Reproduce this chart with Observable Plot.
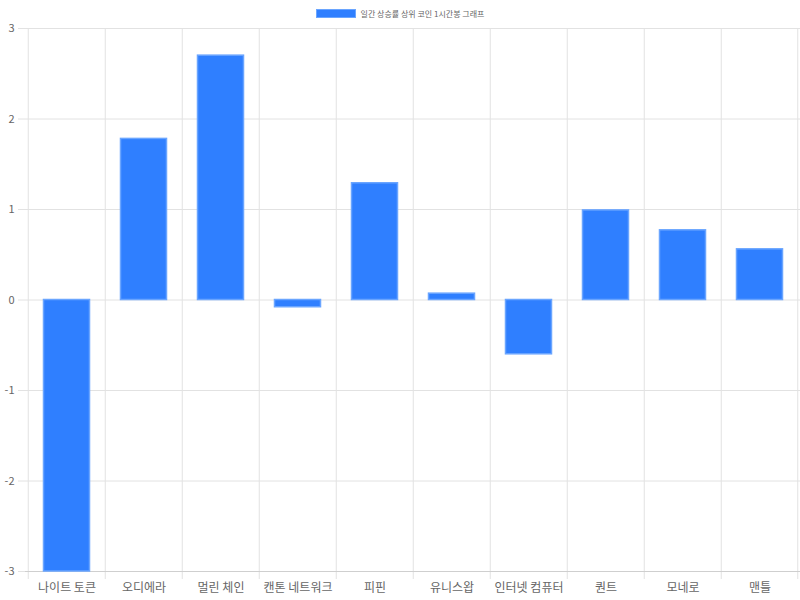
<!DOCTYPE html>
<html>
<head>
<meta charset="utf-8">
<script src="https://cdn.jsdelivr.net/npm/d3@7"></script>
<script src="https://cdn.jsdelivr.net/npm/@observablehq/plot@0.6"></script>
<style>
  html, body { margin: 0; padding: 0; background: #fff; }
  body { width: 800px; position: relative; font-family: "Noto Sans CJK KR", "Noto Sans", sans-serif; }
  #legend { position: absolute; left: 0; top: 0; width: 800px; height: 26px; display: flex; justify-content: center; align-items: center; font-size: 8px; color: #666; z-index: 2; }
  #legend .box { width: 40px; height: 9px; background: #2f7fff; border: 1px solid #6aa5ff; box-sizing: border-box; margin-right: 5px; }
  #chart svg { display: block; }
</style>
</head>
<body>
<div id="legend"><span class="box"></span><span id="legend-label"></span></div>
<div id="chart"></div>
<script>
const seriesName = "일간 상승률 상위 코인 1시간봉 그래프";
const categories = ["나이트 토큰", "오디에라", "멀린 체인", "캔톤 네트워크", "피핀", "유니스왑", "인터넷 컴퓨터", "퀀트", "모네로", "맨틀"];
const values = [-3.0, 1.78, 2.70, -0.08, 1.29, 0.07, -0.60, 0.99, 0.77, 0.56];
const yTicks = [-3, -2, -1, 0, 1, 2, 3];

document.getElementById("legend-label").textContent = seriesName;

const data = categories.map((c, i) => ({category: c, value: values[i]}));
const W = 800, ML = 25, MR = 0;
const bw = (W - ML - MR) / categories.length;
const gridColor = "#e2e2e2";

const chart = Plot.plot({
  width: W,
  height: 600,
  marginTop: 28,
  marginBottom: 29,
  marginLeft: ML,
  marginRight: MR,
  style: {fontFamily: "'Noto Sans CJK KR', 'Noto Sans', sans-serif", fontSize: "12px", color: "#666", background: "#fff"},
  x: {type: "band", domain: categories, padding: 0, label: null},
  y: {domain: [-3, 3], ticks: yTicks, label: null},
  marks: [
    Plot.ruleY(yTicks, {y: d => d, stroke: gridColor, strokeWidth: 1, insetLeft: -7}),
    Plot.ruleX(categories, {x: d => d, y1: 3, y2: -3, dx: -bw / 2, stroke: gridColor, strokeWidth: 1, insetBottom: -8}),
    Plot.ruleX([categories[categories.length - 1]], {x: d => d, y1: 3, y2: -3, dx: bw / 2 - 1, stroke: gridColor, strokeWidth: 1, insetBottom: -8}),
    Plot.ruleY([-3], {stroke: "#cfcfcf", strokeWidth: 1}),
    Plot.barY(data, {x: "category", y: "value", fill: "#2f7fff", stroke: "#6aa5ff", strokeWidth: 1.5, insetLeft: 15.5, insetRight: 15.5}),
    Plot.axisY({ticks: yTicks, tickSize: 0, tickPadding: 11, fontSize: 11, fill: "#666", tickFormat: d => String(d)}),
    Plot.axisX({tickSize: 0, tickPadding: 12, fontSize: 12, fill: "#666"})
  ]
});
document.getElementById("chart").appendChild(chart);
</script>
</body>
</html>
